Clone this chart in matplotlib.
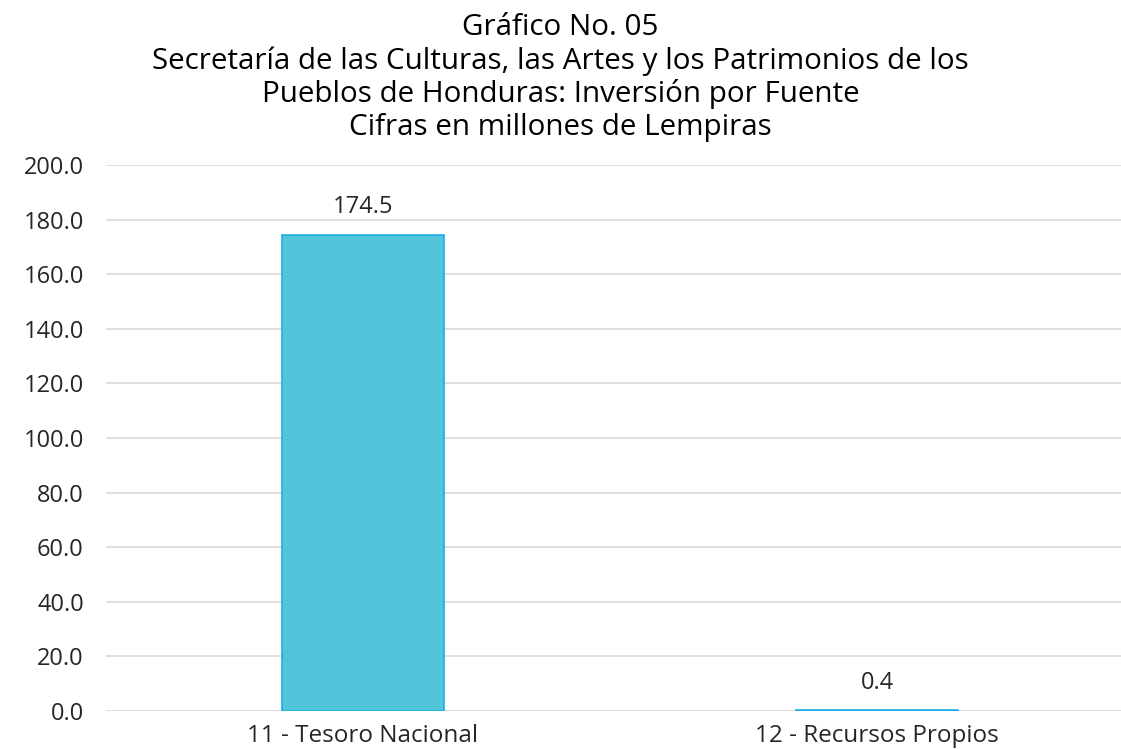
import matplotlib
matplotlib.use("Agg")
import matplotlib.pyplot as plt

# data
categorias = ["11 - Tesoro Nacional", "12 - Recursos Propios"]
valores = [174.5, 0.4]
yticks = [0, 20, 40, 60, 80, 100, 120, 140, 160, 180, 200]

titulo = ["Gráfico No. 05",
          "Secretaría de las Culturas, las Artes y los Patrimonios de los",
          "Pueblos de Honduras: Inversión por Fuente",
          "Cifras en millones de Lempiras"]

plt.rcParams['font.family'] = ['Open Sans', 'DejaVu Sans']

fig = plt.figure(figsize=(11.21, 7.49), dpi=100)
# el area del grafico se sale un poco por la derecha, como en el original
ax = fig.add_axes([0.0946, 0.0507, 0.917, 0.729])

x = range(len(categorias))
ax.bar(x, valores, width=0.315, color="#52C5DA", edgecolor="#1AB0E8", linewidth=1.2, zorder=3)

# etiquetas de valor
for i, v in zip(x, valores):
    ax.annotate(f"{v:.1f}", (i, v), xytext=(0, 11), textcoords="offset points",
                ha="center", va="bottom", fontsize=17, color="#262626")

ax.set_xlim(-0.5, 1.5)
ax.set_ylim(0, 200)
ax.set_yticks(yticks)
ax.set_yticklabels([f"{t:.1f}" for t in yticks], fontsize=17, color="#262626")
ax.set_xticks(list(x))
ax.set_xticklabels(categorias, fontsize=17.5, color="#262626")
ax.tick_params(axis="both", length=0)
ax.tick_params(axis="y", pad=16)
ax.tick_params(axis="x", pad=9)
ax.grid(axis="y", color="#D9D9D9", linewidth=1.2, zorder=0)
for s in ax.spines.values():
    s.set_visible(False)

ys = [0.963, 0.918, 0.874, 0.830]
for t, yy in zip(titulo, ys):
    fig.text(0.5, yy, t, ha="center", va="center", fontsize=21.3, color="#000000")

fig.savefig("out.png", dpi=100)
